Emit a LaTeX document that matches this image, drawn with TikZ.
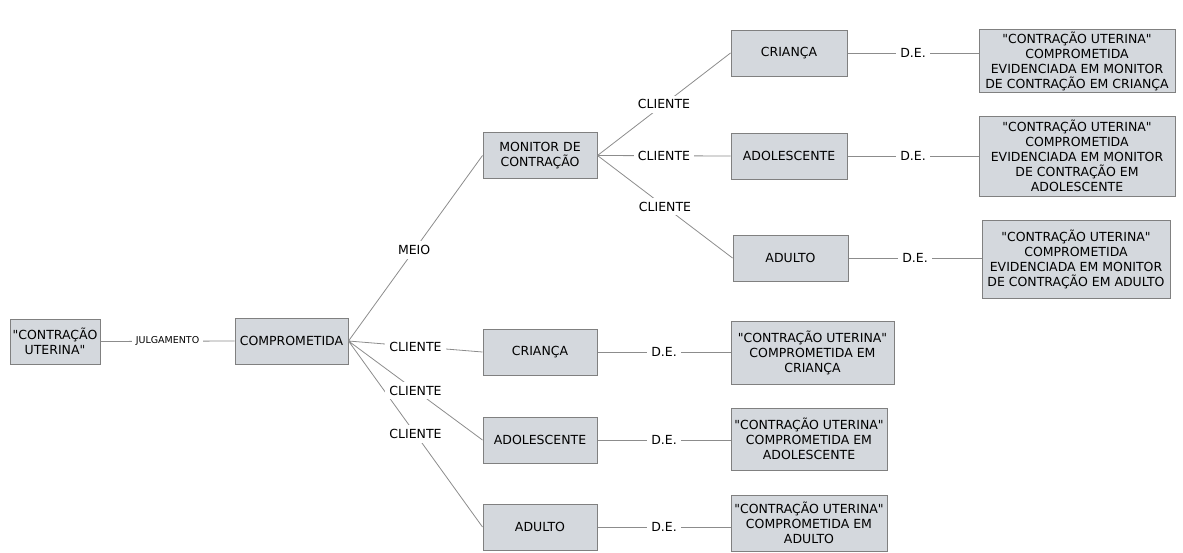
\documentclass[tikz,border=0pt]{standalone}
\usepackage{fontspec}
\setmainfont{DejaVu Sans}[Ligatures=TeXOff]
\usepackage{tikz}
\definecolor{boxfill}{RGB}{212,216,221}
\definecolor{boxdraw}{RGB}{128,128,128}
\definecolor{linkgray}{RGB}{140,140,140}
\newcommand{\widthconcept}{114pt}
\newcommand{\heightconcept}{46pt}
\newcommand{\widthfinal}{196pt}
\newcommand{\widthshort}{156pt}
\tikzset{
    common/.style={draw=boxdraw, line width=1pt, fill=boxfill, rectangle, align=center, inner sep=2pt, font=\fontsize{12.5}{15}\selectfont},
    concept/.style={common, minimum width=\widthconcept, minimum height=\heightconcept},
    final/.style={common, minimum width=\widthfinal},
    short/.style={common, minimum width=\widthshort, minimum height=62pt},
    rel/.style={fill=white, inner sep=4pt, font=\fontsize{12.5}{15}\selectfont},
    smallrel/.style={rel, font=\fontsize{9.5}{11}\selectfont},
    link/.style={draw=linkgray, line width=0.8pt}
}
\begin{document}
\begin{tikzpicture}[x=1pt, y=-1pt]
        \useasboundingbox (0,0) rectangle (1183,552);

        \node[concept, minimum width=90pt, minimum height=45pt] (R) at (55,341.5) {"CONTRAÇÃO\\UTERINA"};
        \node[concept, minimum width=113pt] (J) at (291.5,341) {COMPROMETIDA};

        \node[concept] (M) at (540,155.5) {MONITOR DE\\CONTRAÇÃO};
        \node[concept, minimum width=116pt] (MC) at (789,53) {CRIANÇA};
        \node[concept, minimum width=116pt] (MA) at (789,156) {ADOLESCENTE};
        \node[concept, minimum width=115pt] (MD) at (790.5,258) {ADULTO};
        \node[final, minimum height=62pt] (MC-de) at (1077,61) {"CONTRAÇÃO UTERINA"\\COMPROMETIDA\\EVIDENCIADA EM MONITOR\\DE CONTRAÇÃO EM CRIANÇA};
        \node[final, minimum height=80pt] (MA-de) at (1077,156) {"CONTRAÇÃO UTERINA"\\COMPROMETIDA\\EVIDENCIADA EM MONITOR\\DE CONTRAÇÃO EM\\ADOLESCENTE};
        \node[final, minimum width=188pt, minimum height=78pt] (MD-de) at (1076,259) {"CONTRAÇÃO UTERINA"\\COMPROMETIDA\\EVIDENCIADA EM MONITOR\\DE CONTRAÇÃO EM ADULTO};

        \node[concept] (C) at (540,352) {CRIANÇA};
        \node[concept] (A) at (540,440) {ADOLESCENTE};
        \node[concept] (D) at (540,527) {ADULTO};
        \node[short, minimum width=163pt, minimum height=63pt] (C-de) at (812.5,352.5) {"CONTRAÇÃO UTERINA"\\COMPROMETIDA EM\\CRIANÇA};
        \node[short] (A-de) at (809,439) {"CONTRAÇÃO UTERINA"\\COMPROMETIDA EM\\ADOLESCENTE};
        \node[short, minimum height=56pt] (D-de) at (809,523) {"CONTRAÇÃO UTERINA"\\COMPROMETIDA EM\\ADULTO};

        \draw[link]
          (R.east) -- node[smallrel] (r-j) {JULGAMENTO} (J.west)
          (J.east) -- node[rel, pos=0.49] (j-m) {MEIO} (M.west)
          (J.east) -- node[rel] (j-c) {CLIENTE} (C.west)
          (J.east) -- node[rel] (j-a) {CLIENTE} (A.west)
          (J.east) -- node[rel] (j-d) {CLIENTE} (D.west);

        \draw[link]
          (M.east) -- node[rel] (m-c) {CLIENTE} (MC.west)
          (M.east) -- node[rel] (m-a) {CLIENTE} (MA.west)
          (M.east) -- node[rel] (m-d) {CLIENTE} (MD.west);

        \draw[link]
          (MC.east) -- node[rel] (mc-de) {D.E.} (MC.east -| MC-de.west)
          (MA.east) -- node[rel] (ma-de) {D.E.} (MA.east -| MA-de.west)
          (MD.east) -- node[rel] (md-de) {D.E.} (MD.east -| MD-de.west)
          (C.east) -- node[rel] (c-de) {D.E.} (C.east -| C-de.west)
          (A.east) -- node[rel] (a-de) {D.E.} (A.east -| A-de.west)
          (D.east) -- node[rel] (d-de) {D.E.} (D.east -| D-de.west);
    \end{tikzpicture}
\end{document}
